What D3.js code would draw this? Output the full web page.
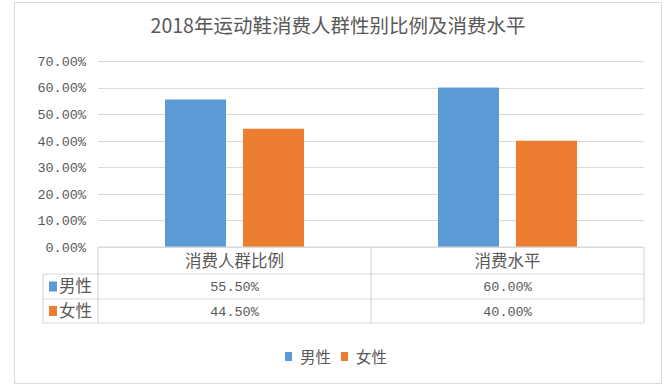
<!DOCTYPE html>
<html>
<head>
<meta charset="utf-8">
<script src="https://d3js.org/d3.v7.min.js"></script>
<style>
html, body { margin: 0; padding: 0; background: #fff; }
svg { display: block; }
text { fill: #595959; }
.num { font-family: "Liberation Mono", "DejaVu Sans Mono", "Noto Sans CJK SC", monospace; }
.cjk { font-family: "Noto Sans CJK SC", sans-serif; }
</style>
</head>
<body>
<script>
let width = 671, height = 390;
let margin = {top: 61, right: 27, bottom: 143, left: 98};

let title = '2018年运动鞋消费人群性别比例及消费水平';
let categories = ['消费人群比例', '消费水平'];
let seriesNames = ['男性', '女性'];
let male = [0.555, 0.60];
let female = [0.445, 0.40];
let yTicks = [0, 0.1, 0.2, 0.3, 0.4, 0.5, 0.6, 0.7];
let colors = ['#5B9BD5', '#ED7D31'];

let series = [male, female];

let svg = d3.select('body').append('svg').attr('width', width).attr('height', height);

// outer frame
svg.append('rect').attr('x', 14.5).attr('y', 2.5).attr('width', 647).attr('height', 381)
    .attr('fill', 'none').attr('stroke', '#d9d9d9').attr('stroke-width', 1);

svg.append('text').attr('class', 'cjk').attr('x', 338).attr('y', 26).attr('dy', '0.36em')
    .attr('text-anchor', 'middle').style('font-size', '19.5px').text(title);

let x0 = d3.scaleBand().domain(categories).range([margin.left, width - margin.right]);
let x1 = d3.scaleBand().domain(seriesNames).range([0, x0.bandwidth()]).paddingInner(0.218).paddingOuter(0.859);
let y = d3.scaleLinear().domain([0, 0.7]).range([247, margin.top]);

// gridlines
svg.append('g').selectAll('line').data(yTicks).enter().append('line')
    .attr('x1', margin.left).attr('x2', width - margin.right)
    .attr('y1', d => Math.round(y(d)) + 0.5).attr('y2', d => Math.round(y(d)) + 0.5)
    .attr('stroke', '#d9d9d9').attr('stroke-width', 1);

// y axis labels
let yAxis = d3.axisLeft(y).tickValues(yTicks).tickFormat(d3.format('.2%')).tickSize(0).tickPadding(12);
let ya = svg.append('g').attr('transform', 'translate(' + margin.left + ',0)').call(yAxis);
ya.select('.domain').remove();
ya.selectAll('text').attr('class', 'num').style('font-size', '13.5px').attr('fill', '#595959');

// bars
series.forEach((vals, si) => {
    svg.append('g').selectAll('rect').data(vals).enter().append('rect')
        .attr('x', (d, i) => x0(categories[i]) + x1(seriesNames[si]))
        .attr('y', d => y(d))
        .attr('width', x1.bandwidth())
        .attr('height', d => y(0) - y(d))
        .attr('fill', colors[si]);
});

// data table
let rowTops = [247, 274, 299, 323];
let tableLeft = 43, tableRight = width - margin.right;
let grid = svg.append('g').attr('stroke', '#d9d9d9').attr('stroke-width', 1.2).attr('fill', 'none');
grid.append('line').attr('x1', margin.left).attr('x2', tableRight).attr('y1', rowTops[0]).attr('y2', rowTops[0]);
rowTops.slice(1).forEach(t => {
    grid.append('line').attr('x1', tableLeft).attr('x2', tableRight).attr('y1', t).attr('y2', t);
});
grid.append('line').attr('x1', tableLeft).attr('x2', tableLeft).attr('y1', rowTops[1]).attr('y2', rowTops[3]);
x0.domain().forEach(c => {
    grid.append('line').attr('x1', x0(c)).attr('x2', x0(c)).attr('y1', rowTops[0]).attr('y2', rowTops[3]);
});
grid.append('line').attr('x1', tableRight).attr('x2', tableRight).attr('y1', rowTops[0]).attr('y2', rowTops[3]);

svg.append('g').selectAll('text').data(categories).enter().append('text')
    .attr('class', 'cjk').attr('x', d => x0(d) + x0.bandwidth() / 2).attr('y', (rowTops[0] + rowTops[1]) / 2 + 1)
    .attr('dy', '0.36em').attr('text-anchor', 'middle').style('font-size', '16.5px').text(d => d);

series.forEach((vals, si) => {
    let cy = (rowTops[si + 1] + rowTops[si + 2]) / 2;
    svg.append('rect').attr('x', 49).attr('y', cy - 5).attr('width', 8).attr('height', 10).attr('fill', colors[si]);
    svg.append('text').attr('class', 'cjk').attr('x', 59).attr('y', cy).attr('dy', '0.36em')
        .style('font-size', '16.5px').text(seriesNames[si]);
    svg.append('g').selectAll('text').data(vals).enter().append('text')
        .attr('class', 'num').attr('x', (d, i) => x0(categories[i]) + x0.bandwidth() / 2).attr('y', cy)
        .attr('dy', '0.35em').attr('text-anchor', 'middle').style('font-size', '13.5px')
        .text(d => d3.format('.2%')(d));
});

// legend
let legendX = [285, 341];
seriesNames.forEach((s, si) => {
    svg.append('rect').attr('x', legendX[si]).attr('y', 352).attr('width', 7).attr('height', 9).attr('fill', colors[si]);
    svg.append('text').attr('class', 'cjk').attr('x', legendX[si] + 15).attr('y', 357).attr('dy', '0.36em')
        .style('font-size', '15.5px').text(s);
});
</script>
</body>
</html>
